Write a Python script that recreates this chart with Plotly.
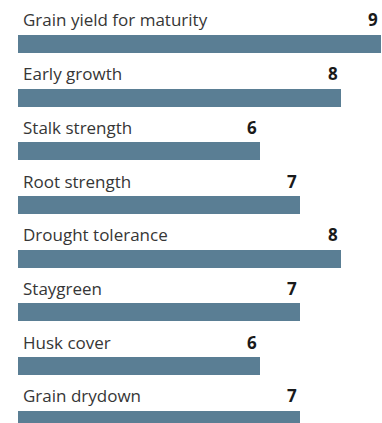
import plotly.graph_objects as go

# Trait ratings (1-9 scale)
traits = [
    "Grain yield for maturity",
    "Early growth",
    "Stalk strength",
    "Root strength",
    "Drought tolerance",
    "Staygreen",
    "Husk cover",
    "Grain drydown",
]
ratings = [9, 8, 6, 7, 8, 7, 6, 7]

BAR_COLOR = "#5a7e94"
FONT = "Open Sans"

fig = go.Figure(
    go.Bar(
        x=ratings,
        y=traits,
        orientation="h",
        marker=dict(color=BAR_COLOR, line=dict(width=0)),
        width=0.335,
        hoverinfo="skip",
    )
)

annotations = []
for name, val in zip(traits, ratings):
    # trait name above the bar, left aligned
    annotations.append(dict(
        x=0, y=name, xref="x", yref="y",
        text=name, showarrow=False,
        xanchor="left", yanchor="middle",
        xshift=3, yshift=24,
        font=dict(family=FONT, size=17, color="#363636"),
    ))
    # rating value above the bar end, right aligned
    annotations.append(dict(
        x=val, y=name, xref="x", yref="y",
        text=f"<b>{val}</b>", showarrow=False,
        xanchor="right", yanchor="middle",
        xshift=-1, yshift=24,
        font=dict(family=FONT, size=17, color="#1a1a1a"),
    ))

fig.update_layout(
    width=382, height=423,
    margin=dict(l=18, r=1, t=0, b=0),
    paper_bgcolor="white", plot_bgcolor="white",
    showlegend=False,
    annotations=annotations,
    xaxis=dict(range=[0, 9], visible=False, fixedrange=True),
    yaxis=dict(
        type="category", categoryorder="array", categoryarray=traits,
        range=[7.058, -0.819], visible=False, fixedrange=True,
    ),
    bargap=0,
)

fig.write_html("out.html", config=dict(displayModeBar=False))
